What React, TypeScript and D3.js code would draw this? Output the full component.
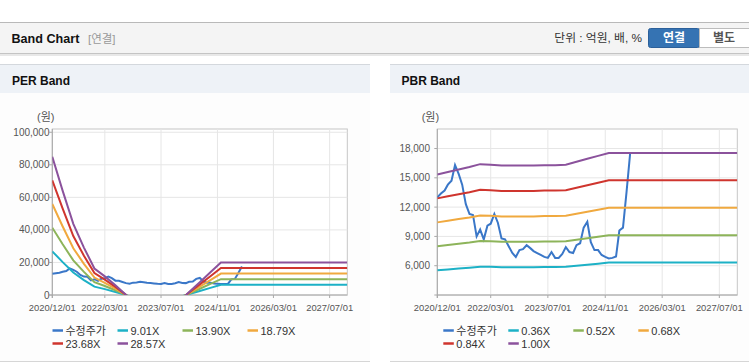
import React from 'react';
import * as d3 from 'd3';

const FONT = "'Liberation Sans', Arial, 'Noto Sans CJK KR', sans-serif";
const parse = d3.timeParse('%Y/%m/%d');

const START = '2020/12/01';
const END = '2027/12/01';
const xTicks = ['2020/12/01', '2022/03/01', '2023/07/01', '2024/11/01', '2026/03/01', '2027/07/01'];

// 수정주가, one value per month from 2020/12
const price = [
  13000, 13400, 13700, 14300, 14700, 16300, 15400, 14300, 12300, 11300,
  11200, 9000, 9700, 8700, 10100, 10300, 11300, 10400, 8800, 8700,
  8000, 7300, 6900, 7600, 7700, 8100, 7800, 7500, 7300, 7100,
  6900, 6800, 7400, 6800, 6800, 7200, 7900, 7400, 7300, 8100,
  8300, 9900, 10500, 8400, 7600, 7600, 7100, 6900, 6750, 6800,
  6950, 9600, 9900, 13500, 17500,
];

// PER band: EPS by quarter
const epsDates = [
  '2020/12/01', '2021/03/01', '2021/06/01', '2021/09/01', '2021/12/01', '2022/03/01',
  '2022/06/01', '2022/09/01', '2022/12/01', '2023/03/01', '2023/06/01', '2023/09/01',
  '2023/12/01', '2024/03/01', '2024/06/01', '2024/09/01', '2024/12/01', '2027/12/01',
];
const eps = [2975, 2240, 1530, 1020, 570, 400, 210, 0, -300, -400, -400, -350, -150, 64, 276, 488, 700, 700];
const perMultiples = [9.01, 13.9, 18.79, 23.68, 28.57];
const perTicks = [0, 20000, 40000, 60000, 80000, 100000];

// PBR band: BPS by quarter
const bpsDates = [
  '2020/12/01', '2021/03/01', '2021/06/01', '2021/09/01', '2021/12/01', '2022/03/01',
  '2022/06/01', '2022/09/01', '2022/12/01', '2023/03/01', '2023/06/01', '2023/09/01',
  '2023/12/01', '2024/03/01', '2024/06/01', '2024/09/01', '2024/12/01', '2027/12/01',
];
const bps = [15350, 15600, 15850, 16100, 16400, 16350, 16250, 16250, 16250, 16250, 16300, 16300, 16350, 16650, 16950, 17250, 17550, 17550];
const pbrMultiples = [0.36, 0.52, 0.68, 0.84, 1.0];
const pbrTicks = [6000, 9000, 12000, 15000, 18000];

const priceColor = '#3a77c8';
const bandColors = ['#1db1c6', '#8db45a', '#f0a93f', '#cf352e', '#8b529c'];

type PanelProps = {
  id: string;
  x0: number;
  x1: number;
  yDomain: [number, number];
  ticks: number[];
  dates: string[];
  base: number[];
  multiples: number[];
  labelRight: number;
  unitX: number;
  legendX: number;
};

function Panel(p: PanelProps) {
  const yTop = 129;
  const yBot = 295;
  const x = d3.scaleTime().domain([parse(START)!, parse(END)!]).range([p.x0, p.x1]);
  const y = d3.scaleLinear().domain(p.yDomain).range([yBot, yTop]);

  const priceData = price.map((v, i) => ({ d: d3.timeMonth.offset(parse(START)!, i), v }));
  const line = d3
    .line<{ d: Date; v: number }>()
    .x((d) => x(d.d))
    .y((d) => y(d.v));

  const bands = p.multiples.map((m) => p.dates.map((s, i) => ({ d: parse(s)!, v: p.base[i] * m })));

  const legend = [
    { label: '수정주가', color: priceColor },
    ...p.multiples.map((m, i) => ({ label: m.toFixed(2) + 'X', color: bandColors[i] })),
  ];

  return (
    <g fontFamily={FONT}>
      <defs>
        <clipPath id={'clip-' + p.id}>
          <rect x={p.x0} y={yTop} width={p.x1 - p.x0} height={yBot - yTop} />
        </clipPath>
      </defs>
      <rect x={p.x0} y={yTop} width={p.x1 - p.x0} height={yBot - yTop} fill="#fff" stroke="#c6c6c6" />
      {xTicks.slice(1).map((t) => (
        <line key={t} x1={x(parse(t)!)} x2={x(parse(t)!)} y1={yTop} y2={yBot} stroke="#e6e6e6" />
      ))}
      {p.ticks.map((t) => (
        <line key={t} x1={p.x0} x2={p.x1} y1={y(t)} y2={y(t)} stroke="#e6e6e6" />
      ))}
      <line x1={p.x0} x2={p.x0} y1={yTop} y2={yBot + 3} stroke="#a8a8a8" />
      <line x1={p.x0 - 3} x2={p.x1} y1={yBot} y2={yBot} stroke="#a8a8a8" />
      {p.ticks.map((t) => (
        <g key={'yt' + t}>
          <line x1={p.x0 - 3} x2={p.x0} y1={y(t)} y2={y(t)} stroke="#a8a8a8" />
          <text x={p.labelRight} y={y(t) + 3.5} textAnchor="end" fontSize={10} fill="#555">
            {d3.format(',')(t)}
          </text>
        </g>
      ))}
      {xTicks.map((t) => (
        <g key={'xt' + t}>
          <line x1={x(parse(t)!)} x2={x(parse(t)!)} y1={yBot} y2={yBot + 3} stroke="#a8a8a8" />
          <text x={x(parse(t)!)} y={yBot + 16} textAnchor="middle" fontSize={9.4} fill="#555">
            {t}
          </text>
        </g>
      ))}
      <text x={p.unitX} y={121} fontSize={11} fill="#555">
        (원)
      </text>
      <g clipPath={`url(#clip-${p.id})`}>
        <path d={line(priceData) || ''} fill="none" stroke={priceColor} strokeWidth={2} />
        {bands.map((b, i) => (
          <path key={i} d={line(b) || ''} fill="none" stroke={bandColors[i]} strokeWidth={2} />
        ))}
      </g>
      {legend.map((l, i) => {
        const lx = p.legendX + (i % 4) * 65;
        const ly = 330.5 + Math.floor(i / 4) * 13;
        return (
          <g key={l.label}>
            <line x1={lx} x2={lx + 10.5} y1={ly} y2={ly} stroke={l.color} strokeWidth={2.5} />
            <text x={lx + 13} y={ly + 4} fontSize={11} fill="#333">
              {l.label}
            </text>
          </g>
        );
      })}
    </g>
  );
}

export default function App() {
  return (
    <svg
      width={749}
      height={364}
      style={{ position: 'absolute', left: 0, top: 0, background: '#fff' }}
    >
      {/* top header */}
      <rect x={0} y={22} width={749} height={31} fill="#f4f4f4" />
      <line x1={0} x2={749} y1={22.5} y2={22.5} stroke="#b9b9b9" />
      <line x1={0} x2={749} y1={53.5} y2={53.5} stroke="#c4c4c4" />
      <rect x={0} y={54} width={749} height={2} fill="#e8e8e8" />
      <text x={11.5} y={42.5} fontFamily={FONT} fontWeight="bold" fontSize={12.6} fill="#111">
        Band Chart
      </text>
      <text x={88} y={42.5} fontFamily={FONT} fontSize={11.5} fill="#999">
        [연결]
      </text>
      <text x={642} y={42.3} textAnchor="end" fontFamily={FONT} fontSize={11.8} fill="#333">
        단위 : 억원, 배, %
      </text>
      <rect x={648.5} y={28.5} width={51} height={19} rx={2} fill="#3573b3" stroke="#2c609a" />
      <text x={674} y={42} textAnchor="middle" fontFamily={FONT} fontWeight="bold" fontSize={12} fill="#fff">
        연결
      </text>
      <rect x={699.5} y={28.5} width={56} height={19} fill="#fff" stroke="#bcbcbc" />
      <text x={724} y={42} textAnchor="middle" fontFamily={FONT} fontWeight="bold" fontSize={12} fill="#555">
        별도
      </text>

      {/* panel headers */}
      <rect x={0} y={64} width={370} height={29} fill="#eef2f7" />
      <line x1={0} x2={370} y1={64.5} y2={64.5} stroke="#d4d8dd" />
      <text x={12} y={84.5} fontFamily={FONT} fontWeight="bold" fontSize={12} fill="#111">
        PER Band
      </text>
      <rect x={390} y={64} width={359} height={29} fill="#eef2f7" />
      <line x1={390} x2={749} y1={64.5} y2={64.5} stroke="#d4d8dd" />
      <text x={401.5} y={84.5} fontFamily={FONT} fontWeight="bold" fontSize={12} fill="#111">
        PBR Band
      </text>
      <rect x={0} y={93} width={370} height={268} fill="#fdfdfd" />
      <rect x={390} y={93} width={359} height={268} fill="#fdfdfd" />
      <line x1={0} x2={370} y1={361.5} y2={361.5} stroke="#d6d6d6" />
      <line x1={390} x2={749} y1={361.5} y2={361.5} stroke="#d6d6d6" />

      <Panel
        id="per"
        x0={52.3}
        x1={347.3}
        yDomain={[0, 102000]}
        ticks={perTicks}
        dates={epsDates}
        base={eps}
        multiples={perMultiples}
        labelRight={49.5}
        unitX={37}
        legendX={52.5}
      />
      <Panel
        id="pbr"
        x0={437.3}
        x1={737.3}
        yDomain={[3000, 20000]}
        ticks={pbrTicks}
        dates={bpsDates}
        base={bps}
        multiples={pbrMultiples}
        labelRight={430}
        unitX={421.7}
        legendX={443.3}
      />
    </svg>
  );
}
